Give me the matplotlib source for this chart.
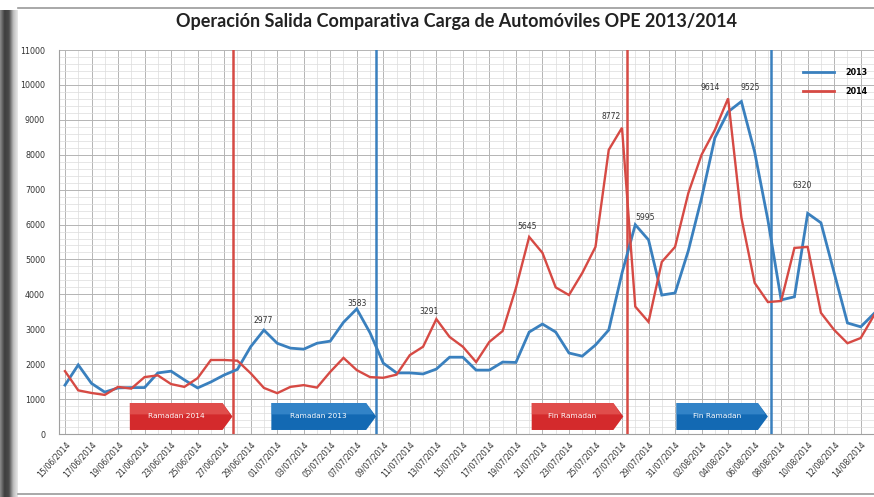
import numpy as np
import matplotlib
matplotlib.use("Agg")
import matplotlib.pyplot as plt
from matplotlib.patches import Polygon
from matplotlib.lines import Line2D
from matplotlib.colors import LinearSegmentedColormap

# daily values, 15/06 .. 16/08
blue_2013 = [1400, 1980, 1450, 1200, 1320, 1330, 1330, 1750, 1800, 1550,
             1320, 1490, 1690, 1850, 2500, 2977, 2600, 2460, 2430, 2600,
             2660, 3200, 3583, 2900, 2030, 1750, 1750, 1720, 1860, 2200,
             2200, 1830, 1830, 2060, 2050, 2920, 3150, 2920, 2320, 2230,
             2550, 2980, 4610, 5995, 5560, 3980, 4040, 5250, 6760, 8480,
             9230, 9525, 8080, 6130, 3840, 3930, 6320, 6050, 4610, 3180,
             3070, 3450]
red_2014 = [1800, 1250, 1175, 1120, 1350, 1300, 1630, 1680, 1430, 1350,
            1600, 2120, 2120, 2100, 1740, 1320, 1170, 1350, 1400, 1330,
            1780, 2180, 1830, 1630, 1610, 1700, 2260, 2500, 3291, 2780,
            2500, 2060, 2640, 2950, 4180, 5645, 5190, 4200, 3980, 4610,
            5360, 8140, 8772, 3650, 3210, 4930, 5360, 6900, 8000, 8710,
            9614, 6200, 4330, 3780, 3810, 5330, 5360, 3470, 2980, 2600,
            2750, 3400]
date_labels = ["15/06/2014", "17/06/2014", "19/06/2014", "21/06/2014", "23/06/2014",
               "25/06/2014", "27/06/2014", "29/06/2014", "01/07/2014", "03/07/2014",
               "05/07/2014", "07/07/2014", "09/07/2014", "11/07/2014", "13/07/2014",
               "15/07/2014", "17/07/2014", "19/07/2014", "21/07/2014", "23/07/2014",
               "25/07/2014", "27/07/2014", "29/07/2014", "31/07/2014", "02/08/2014",
               "04/08/2014", "06/08/2014", "08/08/2014", "10/08/2014", "12/08/2014",
               "14/08/2014"]
# (series, day index, text, dx px, dy px)
peak_labels = [("b", 15, "2977", -1, 10), ("b", 22, "3583", 0, 5),
               ("r", 28, "3291", -7, 8), ("r", 35, "5645", -2, 10),
               ("r", 42, "8772", -11, 11), ("b", 43, "5995", 10, 7),
               ("r", 50, "9614", -18, 11), ("b", 51, "9525", 9, 14),
               ("b", 56, "6320", -5, 28)]
# vertical markers (day position, colour)
vlines = [(12.65, "r"), (23.46, "b"), (42.4, "r"), (53.2, "b")]
# arrow boxes (start day, end day, colour, text)
banners = [(4.89, 12.63, "r", "Ramadan 2014"), (15.56, 23.46, "b", "Ramadan 2013"),
           (35.19, 42.1, "r", "Fin Ramadan"), (46.1, 53.0, "b", "Fin Ramadan")]

RED = "#d64a44"
BLUE = "#3a80be"
col = {"r": RED, "b": BLUE}

W, H = 874, 497
fig = plt.figure(figsize=(W / 100, H / 100), dpi=100)

# background card with dark left shadow
bg = fig.add_axes([0, 0, 1, 1])
bg.axis("off")
shade = LinearSegmentedColormap.from_list("sh", ["#8a8a8a", "#3e3e3e", "#4a4a4a", "#bdbdbd", "#e8e8e8"])
bg.imshow(np.linspace(0, 1, 40).reshape(1, -1), extent=[0, 18, H, 10], cmap=shade, aspect="auto")
bg.plot([18, W], [8, 8], color="#9a9a9a", lw=1.2)
bg.plot([18, W], [494, 494], color="#9a9a9a", lw=1.2)
bg.set_xlim(0, W); bg.set_ylim(H, 0)

fig.text(456 / W, 1 - 22 / H, "Operación Salida Comparativa Carga de Automóviles OPE 2013/2014",
         ha="center", va="center", fontsize=13, fontweight="bold", family="Lato", color="#222222")

ax = fig.add_axes([59 / W, (H - 434) / H, (W - 59) / W, (434 - 50) / H])
ax.set_facecolor("white")
x = np.arange(len(blue_2013))
ax.set_xlim((59 - 65) / 13.3, (874 - 65) / 13.3)
ax.set_ylim(0, 11000)

ax.set_yticks(np.arange(0, 11001, 1000))
ax.set_yticks(np.arange(0, 11001, 200), minor=True)
ax.set_xticks(np.arange(0, 61, 2))
ax.set_xticks(np.arange(0, 62, 1), minor=True)
ax.set_xticklabels(date_labels, rotation=48, ha="right", rotation_mode="anchor",
                   fontsize=5.6, color="#333333")
ax.tick_params(axis="y", labelsize=5.8, labelcolor="#333333", length=0, pad=10)
ax.tick_params(axis="x", length=0, pad=4)
ax.tick_params(which="minor", length=0)
ax.grid(which="major", color="#b4b4b4", lw=0.7)
ax.grid(which="minor", color="#dcdcdc", lw=0.5)
ax.set_axisbelow(True)
for s in ["top", "right"]:
    ax.spines[s].set_visible(False)
ax.spines["left"].set_color("#a0a0a0")
ax.spines["bottom"].set_color("#a0a0a0")

for pos, c in vlines:
    ax.axvline(pos, color=col[c], lw=1.8, zorder=3)

ax.plot(x, blue_2013, color=BLUE, lw=2.0, zorder=4, solid_joinstyle="miter")
ax.plot(x, red_2014, color=RED, lw=1.7, zorder=4, solid_joinstyle="miter")

for s, i, txt, dx, dy in peak_labels:
    v = blue_2013[i] if s == "b" else red_2014[i]
    ax.annotate(txt, (i, v), xytext=(dx * 0.72, dy * 0.72), textcoords="offset points",
                ha="center", va="center", fontsize=5.5, color="#333333", zorder=5)

fill = {"r": ("#d42a2c", "#ea6a66"), "b": ("#1369b3", "#4c9ad8")}
y0, y1 = 115, 888
for a, b, c, txt in banners:
    tip = 0.75
    body, light = fill[c]
    ax.add_patch(Polygon([(a, y0), (b - tip, y0), (b, (y0 + y1) / 2), (b - tip, y1), (a, y1)],
                         closed=True, facecolor=body, edgecolor="none", zorder=5))
    ym = (y0 + y1) / 2
    ax.add_patch(Polygon([(a, ym + 60), (b - tip * 0.25, ym + 60), (b - tip, y1), (a, y1)],
                         closed=True, facecolor=light, edgecolor="none", alpha=0.55, zorder=5))
    ax.text((a + b - tip) / 2, ym, txt, ha="center", va="center", fontsize=5.3,
            color="white", zorder=6)

handles = [Line2D([], [], color=BLUE, lw=2), Line2D([], [], color=RED, lw=2)]
leg = ax.legend(handles, ["2013", "2014"], loc="upper left", bbox_to_anchor=(803 / W, 1 - 68 / H),
                bbox_transform=fig.transFigure, frameon=False, fontsize=5.8, handlelength=3.8,
                handletextpad=1.4, labelspacing=1.2, borderpad=0, borderaxespad=0)
for t in leg.get_texts():
    t.set_fontweight("bold")

fig.savefig("out.png", dpi=100)
